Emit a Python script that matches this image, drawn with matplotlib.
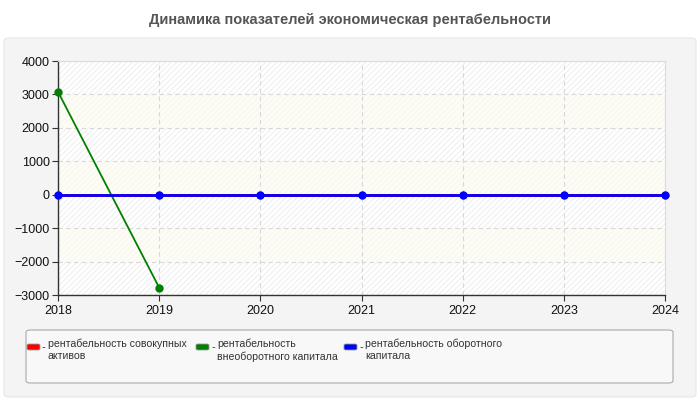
import matplotlib
matplotlib.use("Agg")
import matplotlib.pyplot as plt
from matplotlib.patches import FancyBboxPatch

plt.rcParams['font.family'] = ['Liberation Sans', 'DejaVu Sans']
plt.rcParams['hatch.linewidth'] = 0.6

years = [2018, 2019, 2020, 2021, 2022, 2023, 2024]
# рентабельность совокупных активов (red, hidden under blue)
red_vals = [0, 0, 0, 0, 0, 0, 0]
# рентабельность внеоборотного капитала (only two points)
green_years = [2018, 2019]
green_vals = [3080, -2780]
# рентабельность оборотного капитала
blue_vals = [0, 0, 0, 0, 0, 0, 0]

yticks = [-3000, -2000, -1000, 0, 1000, 2000, 3000, 4000]
title = "Динамика показателей экономическая рентабельности"
legend_items = [
    ("#ff0000", "рентабельность совокупных\nактивов"),
    ("#008000", "рентабельность\nвнеоборотного капитала"),
    ("#0000ff", "рентабельность оборотного\nкапитала"),
]

fig = plt.figure(figsize=(7, 4), dpi=100)
fig.patch.set_facecolor("white")

# outer gray panel
panel = FancyBboxPatch((4 / 700, 3 / 400), 692 / 700, 359 / 400,
                       boxstyle="round,pad=0,rounding_size=0.008",
                       transform=fig.transFigure, facecolor="#f4f4f4",
                       edgecolor="#e6e6e6", linewidth=0.8, zorder=-10)
fig.patches.append(panel)

fig.text(0.5, 1 - 20 / 400, title, ha="center", va="center",
         fontsize=10.5, fontweight="bold", color="#555555")

ax = fig.add_axes([58 / 700, 1 - 295 / 400, 607 / 700, 234 / 400])
ax.set_zorder(1)
ax.set_facecolor("white")

# alternating bands: hatched grey / plain light yellow
for i in range(len(yticks) - 1):
    lo, hi = yticks[i], yticks[i + 1]
    if i % 2 == 0:
        ax.axhspan(lo, hi, facecolor="white", edgecolor="#ebebeb",
                   hatch="//////", linewidth=0, zorder=0)
    else:
        ax.axhspan(lo, hi, facecolor="#fdfdf6", edgecolor="#f6f6ee",
                   hatch="//////", linewidth=0, zorder=0)

ax.set_xlim(2018, 2024)
ax.set_ylim(-3000, 4000)
ax.set_xticks(years)
ax.set_yticks(yticks)
ax.grid(True, color="#d8d8d8", linestyle=(0, (4, 3)), linewidth=0.8, zorder=1)
ax.set_axisbelow(True)

for s in ["top", "right"]:
    ax.spines[s].set_color("#dcdcdc")
    ax.spines[s].set_linewidth(0.8)
for s in ["left", "bottom"]:
    ax.spines[s].set_color("#333333")
    ax.spines[s].set_linewidth(1)
ax.tick_params(axis="both", labelsize=9, colors="#333333", length=4, width=0.8,
               labelcolor="#111111")
ax.tick_params(axis="y", pad=2)

ax.plot(years, red_vals, color="#ff0000", linewidth=2, marker="o", markersize=4.5,
        clip_on=False, zorder=3)
ax.plot(green_years, green_vals, color="#008000", linewidth=1.3, marker="o",
        markersize=5, clip_on=False, zorder=4)
ax.plot(years, blue_vals, color="#0000ff", linewidth=2, marker="o", markersize=5,
        clip_on=False, zorder=5)

# legend box
lbox = FancyBboxPatch((26 / 700, 1 - 383 / 400), 647 / 700, 53 / 400,
                      boxstyle="round,pad=0,rounding_size=0.006",
                      transform=fig.transFigure, facecolor="#f8f8f8",
                      edgecolor="#aaaaaa", linewidth=0.8, zorder=-5)
fig.patches.append(lbox)

xs = [27, 196, 344]
for (col, label), x0 in zip(legend_items, xs):
    sw = FancyBboxPatch((x0 / 700, 1 - 350 / 400), 13 / 700, 6 / 400,
                        boxstyle="round,pad=0,rounding_size=0.003",
                        transform=fig.transFigure, facecolor=col,
                        edgecolor="#999999", linewidth=0.6, zorder=2)
    fig.patches.append(sw)
    fig.text((x0 + 15) / 700, 1 - 347 / 400, "-", ha="left", va="center",
             fontsize=8, color="#333333")
    fig.text((x0 + 21) / 700, 1 - 339 / 400, label, ha="left", va="top",
             fontsize=7.6, color="#333333", linespacing=1.25)

fig.savefig("out.png", dpi=100)
